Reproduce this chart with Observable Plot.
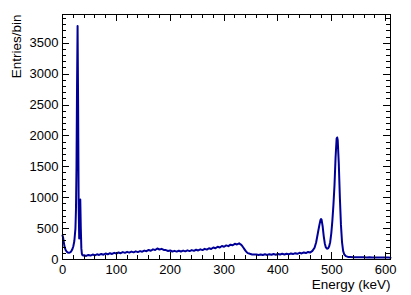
<!DOCTYPE html>
<html>
<head>
<meta charset="utf-8">
<script src="https://cdn.jsdelivr.net/npm/d3@7"></script>
<script src="https://cdn.jsdelivr.net/npm/@observablehq/plot@0.6"></script>
<style>
  html, body { margin: 0; padding: 0; background: white; }
  #chart { width: 411px; height: 295px; }
</style>
</head>
<body>
<div id="chart"></div>
<script>
// Energy (keV) bin positions and entries
const energies = [
  0, 1, 2, 3, 4, 6, 8, 10, 12, 14, 16, 18, 20, 22, 24, 25, 26, 27, 28, 29, 30, 31, 32, 33, 34, 35, 36, 37, 38,
  40, 44, 48, 52, 56, 60, 64, 68, 72, 76, 80, 84, 88, 92, 96, 100, 104, 108, 112, 116, 120, 124, 128, 132, 136,
  140, 144, 148, 152, 156, 160, 164, 168, 172, 176, 180, 184, 188, 192, 196, 200, 204, 208, 212, 216, 220, 224,
  228, 232, 236, 240, 244, 248, 252, 256, 260, 264, 268, 272, 276, 280, 284, 288, 292, 296, 300, 304, 308, 312,
  316, 320, 324, 328, 330, 332, 334, 336, 338, 340, 342, 344, 348, 352, 356, 360, 364, 368, 372, 376, 380, 384,
  388, 392, 396, 400, 404, 408, 412, 416, 420, 424, 428, 432, 436, 440, 444, 448, 452, 456, 460, 464, 468, 471,
  474, 477, 479, 480, 481, 483, 485, 487, 489, 491, 493, 495, 497, 499, 501, 503, 505, 507, 509, 510, 511, 513,
  515, 517, 519, 521, 523, 526, 530, 535, 540, 545, 550, 555, 560, 565, 570, 575, 580, 585, 590, 595, 600, 605, 609
];
const entries = [
  390, 360, 300, 250, 200, 150, 125, 112, 108, 115, 130, 160, 210, 300, 500, 800, 1500, 2800, 3780, 2500, 900, 340, 700, 970, 500, 180, 90, 70, 65,
  68, 58, 74, 64, 80, 68, 84, 74, 90, 78, 96, 84, 102, 90, 108, 96, 114, 102, 120, 108, 124, 112, 128, 116, 132,
  120, 136, 126, 144, 134, 154, 142, 164, 154, 178, 162, 172, 154, 152, 138, 146, 130, 140, 128, 142, 130, 144,
  132, 148, 136, 152, 140, 158, 146, 164, 152, 172, 160, 182, 170, 194, 182, 206, 194, 218, 206, 228, 216, 240,
  230, 254, 244, 262, 248, 236, 215, 190, 165, 140, 118, 104, 92, 82, 80, 80, 72, 82, 72, 84, 74, 86,
  76, 88, 78, 90, 80, 92, 82, 94, 84, 98, 88, 102, 92, 108, 98, 114, 104, 122, 112, 140, 190, 280,
  420, 560, 640, 655, 645, 540, 380, 260, 195, 175, 180, 210, 280, 420, 620, 880, 1200, 1650, 1960, 1975, 1930, 1550,
  1000, 560, 280, 140, 85, 55, 42, 40, 38, 36, 37, 35, 35, 34, 35, 33, 33, 34, 32, 33, 32, 31, 30
];

const xMajor = [0, 100, 200, 300, 400, 500, 600];
const xMinor = [20, 40, 60, 80, 120, 140, 160, 180, 220, 240, 260, 280, 320, 340, 360, 380, 420, 440, 460, 480, 520, 540, 560, 580];
const yMajor = [0, 500, 1000, 1500, 2000, 2500, 3000, 3500];
const yMinor = [100, 200, 300, 400, 600, 700, 800, 900, 1100, 1200, 1300, 1400, 1600, 1700, 1800, 1900,
  2100, 2200, 2300, 2400, 2600, 2700, 2800, 2900, 3100, 3200, 3300, 3400, 3600, 3700, 3800, 3900];
const xTitle = "Energy (keV)";
const yTitle = "Entries/bin";

const hist = energies.map((e, i) => ({energy: e, count: entries[i]}));

const W = 411, H = 295, mL = 62, mR = 21, mT = 14, mB = 36;
const pw = W - mL - mR, ph = H - mT - mB;
const major = 7, minor = 4;
const fmt = d => String(d);

const chart = Plot.plot({
  width: W,
  height: H,
  marginLeft: mL,
  marginRight: mR,
  marginTop: mT,
  marginBottom: mB,
  style: {fontFamily: "'Liberation Sans', Arial, Helvetica, sans-serif", fontSize: "13px", background: "white", color: "black"},
  x: {domain: [0, 609]},
  y: {domain: [0, 3965]},
  marks: [
    Plot.line(hist, {x: "energy", y: "count", stroke: "#000099", strokeWidth: 2, strokeLinejoin: "round"}),
    // inward ticks, bottom & top
    Plot.ruleX(xMajor, {x: d => d, insetTop: ph - major, stroke: "black", shapeRendering: "crispEdges"}),
    Plot.ruleX(xMinor, {x: d => d, insetTop: ph - minor, stroke: "black", shapeRendering: "crispEdges"}),
    Plot.ruleX(xMajor, {x: d => d, insetBottom: ph - major, stroke: "black", shapeRendering: "crispEdges"}),
    Plot.ruleX(xMinor, {x: d => d, insetBottom: ph - minor, stroke: "black", shapeRendering: "crispEdges"}),
    // inward ticks, left & right
    Plot.ruleY(yMajor, {y: d => d, insetRight: pw - major, stroke: "black", shapeRendering: "crispEdges"}),
    Plot.ruleY(yMinor, {y: d => d, insetRight: pw - minor, stroke: "black", shapeRendering: "crispEdges"}),
    Plot.ruleY(yMajor, {y: d => d, insetLeft: pw - major, stroke: "black", shapeRendering: "crispEdges"}),
    Plot.ruleY(yMinor, {y: d => d, insetLeft: pw - minor, stroke: "black", shapeRendering: "crispEdges"}),
    Plot.frame({stroke: "black", shapeRendering: "crispEdges"}),
    Plot.axisX(xMajor, {tickSize: 0, tickPadding: 5, label: null, fontSize: 13, tickFormat: fmt}),
    Plot.axisY(yMajor, {tickSize: 0, tickPadding: 4, label: null, fontSize: 13, tickFormat: fmt}),
    Plot.text([xTitle], {frameAnchor: "bottom-right", text: d => d, textAnchor: "end", lineAnchor: "middle", dy: 25, fontSize: 13.5}),
    Plot.text([yTitle], {frameAnchor: "top-left", text: d => d, textAnchor: "end", lineAnchor: "middle", rotate: -90, dx: -46, fontSize: 13.5})
  ]
});
document.getElementById("chart").appendChild(chart);
</script>
</body>
</html>
